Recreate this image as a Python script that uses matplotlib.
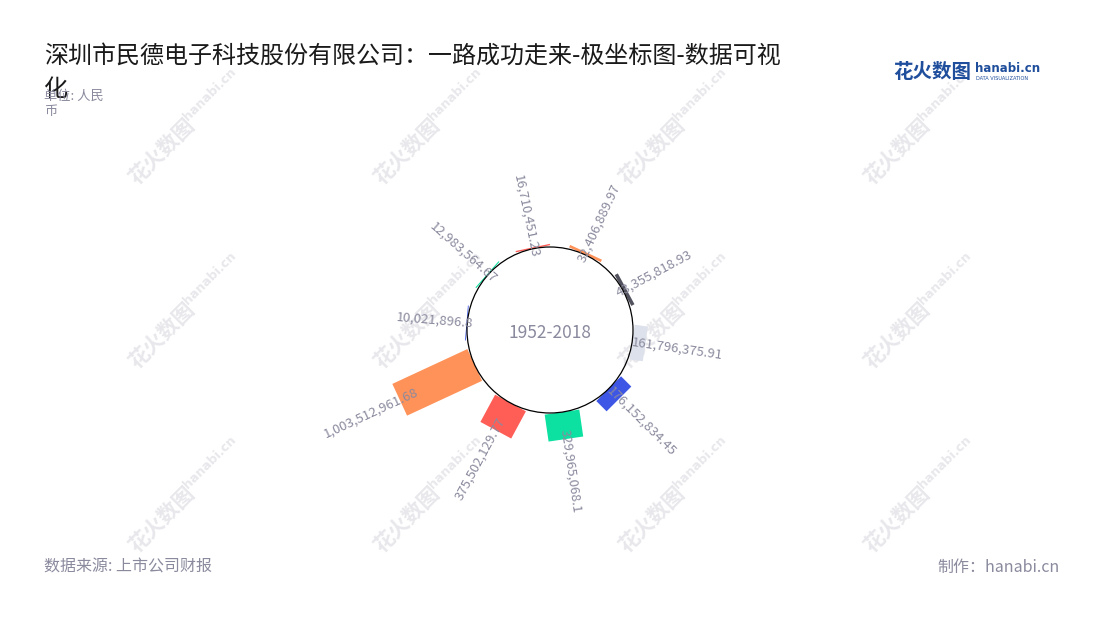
import numpy as np
import matplotlib.pyplot as plt
from matplotlib.patches import Rectangle, Circle
from matplotlib.transforms import Affine2D

plt.rcParams['font.family'] = ['Noto Sans CJK SC', 'DejaVu Sans']

# 数据: 按数值升序, 顺时针排列
values = [10021896.8, 12983564.67, 16710451.23, 32406889.97, 43355818.93,
          161796375.91, 176152834.45, 329965068.1, 375502129.77, 1003512961.68]
palette = ['#3d56e5', '#0de1a1', '#ff5e57', '#ff9258', '#52525e', '#dde1eb']
center_text = "1952-2018"
title = "深圳市民德电子科技股份有限公司：一路成功走来-极坐标图-数据可视"
title_tail = "化"
unit_text = "单位: 人民\n币"
source_text = "数据来源: 上市公司财报"
credit_text = "制作：hanabi.cn"

TEXT_GRAY = '#8a8a9e'
W, H = 1100, 620

fig = plt.figure(figsize=(11, 6.2), dpi=100)
fig.patch.set_facecolor('white')
# 坐标单位 = 像素, 圆心在原点
ax = fig.add_axes([0, 0, 1, 1])
ax.set_xlim(-550, 550)
ax.set_ylim(-290, 330)
ax.set_aspect('equal')
ax.axis('off')

# 水印
for cx in np.arange(184, W, 245):
    for cy in np.arange(127, H - 60, 184):
        x, y = cx - 550, 330 - cy
        ax.text(x - 22, y - 24, "花火数图", fontsize=15, fontweight='bold', color='#e8e8ec',
                rotation=45, ha='center', va='center', zorder=0)
        ax.text(x + 26, y + 33, "hanabi.cn", fontsize=9, fontweight='bold', color='#e8e8ec',
                rotation=45, ha='center', va='center', zorder=0, family='DejaVu Sans')

inner_r = 83
px_per_value = 82.7 / 1003.5e6
bar_w = 35
start_angle = 274.8  # 罗盘角度, 顺时针
step = 36.7

for i, v in enumerate(values):
    phi = start_angle + step * i
    a = 90 - phi  # 数学角度
    L = v * px_per_value
    rect = Rectangle((inner_r, -bar_w / 2), L, bar_w, facecolor=palette[i % len(palette)],
                     edgecolor='none', zorder=2)
    rect.set_transform(Affine2D().rotate_deg(a) + ax.transData)
    ax.add_patch(rect)

    # 数值标签
    r_lab = inner_r + L + 32
    rad = np.deg2rad(a)
    rot = (a + 90) % 180 - 90
    ax.text(r_lab * np.cos(rad), r_lab * np.sin(rad), f"{v:,}", fontsize=9.5, color=TEXT_GRAY,
            rotation=rot, rotation_mode='anchor', ha='center', va='center', zorder=4)

ax.add_patch(Circle((0, 0), inner_r, facecolor='none', edgecolor='black', lw=0.9, zorder=3))
ax.text(0, -3, center_text, fontsize=12.5, color=TEXT_GRAY, ha='center', va='center', zorder=4)

# 标题与注释
fig.text(44 / W, 1 - 56 / H, title, fontsize=17.3, color='#1a1a1a', va='center', ha='left')
fig.text(44 / W, 1 - 89 / H, title_tail, fontsize=17.3, color='#1a1a1a', va='center', ha='left')
fig.text(44 / W, 1 - 104 / H, unit_text, fontsize=9.5, color=TEXT_GRAY, va='center', ha='left',
         linespacing=1.3)
fig.text(44 / W, 1 - 567 / H, source_text, fontsize=11.5, color=TEXT_GRAY, va='center', ha='left')
fig.text(1060 / W, 1 - 567 / H, credit_text, fontsize=11.5, color=TEXT_GRAY, va='center', ha='right')

# logo
fig.text(893 / W, 1 - 72 / H, "花火数图", fontsize=14, fontweight='bold', color='#1f4e9c',
         va='center', ha='left')
fig.text(975 / W, 1 - 69 / H, "hanabi.cn", fontsize=8.5, fontweight='bold', color='#1f4e9c',
         va='center', ha='left', family='DejaVu Sans')
fig.text(976 / W, 1 - 79 / H, "DATA VISUALIZATION", fontsize=3.6, color='#1f4e9c',
         va='center', ha='left', family='DejaVu Sans')

fig.savefig('out.png', dpi=100, facecolor='white')
